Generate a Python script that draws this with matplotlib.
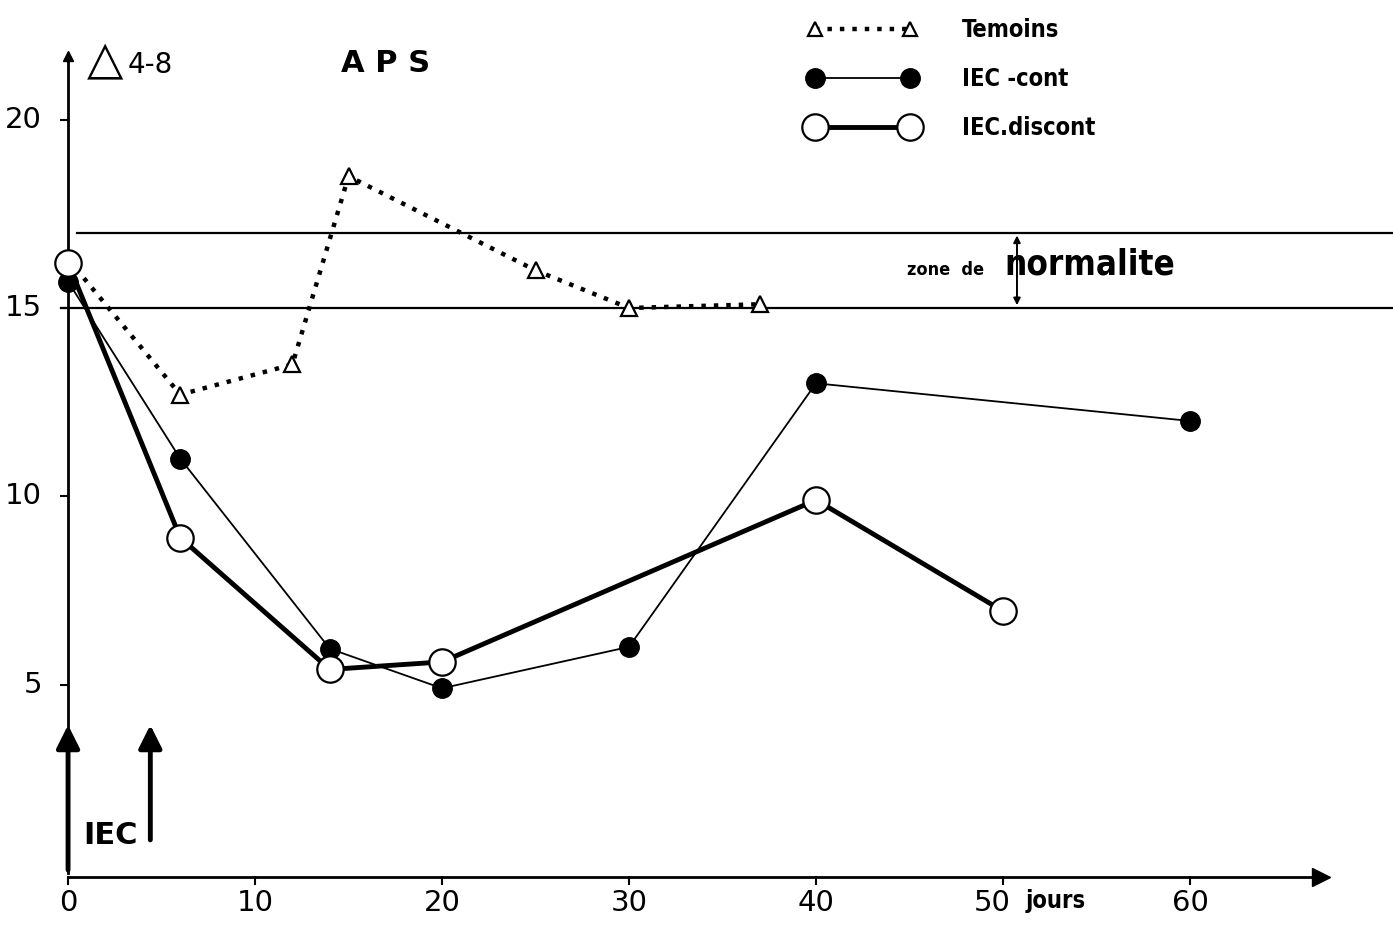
import matplotlib
matplotlib.use("Agg")
from matplotlib import pyplot as plt

# data (day, delta 4-8)
temoins_x = [0, 6, 12, 15, 25, 30, 37]
temoins_y = [16.3, 12.7, 13.5, 18.5, 16.0, 15.0, 15.1]

cont_x = [0, 6, 14, 20, 30, 40, 60]
cont_y = [15.7, 11.0, 5.95, 4.9, 6.0, 13.0, 12.0]

discont_x = [0, 6, 14, 20, 40, 50]
discont_y = [16.2, 8.9, 5.4, 5.6, 9.9, 6.95]

norm_low, norm_high = 15, 17
iec_days = [0, 4.4]
xticks = [0, 10, 20, 30, 40, 50, 60]
xticklabels = ["0", "10", "20", "30", "40", "50", "60"]
yticks = [5, 10, 15, 20]

fig = plt.figure(figsize=(13.93, 9.27), dpi=100)
ax = fig.add_axes([0, 0, 1, 1])
ax.set_xlim(-3.64, 70.86)
ax.set_ylim(-1.44, 23.18)
ax.axis("off")

k = "black"
# axes with arrows
ax.plot([0, 0], [0, 21.6], color=k, lw=2)
ax.plot(0, 21.7, marker="^", color=k, ms=7)
ax.plot([0, 66.5], [-0.1, -0.1], color=k, lw=2)
ax.plot(67, -0.1, marker=">", color=k, ms=13)

for t in yticks:
    ax.plot([-0.4, 0], [t, t], color=k, lw=1.5)
    ax.text(-1.4, t, str(t), ha="right", va="center", fontsize=21, color=k)
for t, lab in zip(xticks, xticklabels):
    ax.plot([t, t], [-0.1, -0.3], color=k, lw=1.5)
    xt = t - 0.6 if lab == "50" else t
    ax.text(xt, -0.8, lab, ha="center", va="center", fontsize=21, color=k)
ax.text(51.2, -0.75, "jours", ha="left", va="center", fontsize=17,
        fontweight="bold", fontstretch="condensed", color=k)

# zone de normalite
ax.axhline(norm_high, xmin=(0.5 + 3.64) / 74.5, color=k, lw=1.6)
ax.axhline(norm_low, xmin=(-0.4 + 3.64) / 74.5, color=k, lw=1.6)
ax.annotate("", xy=(50.75, norm_high), xytext=(50.75, norm_low),
            arrowprops=dict(arrowstyle="<|-|>", color=k, lw=1.4, mutation_scale=10))
ax.text(49.0, 16.0, "zone  de", ha="right", va="center", fontsize=13,
        fontweight="bold", fontstretch="condensed", color=k)
ax.text(50.1, 16.15, "normalite", ha="left", va="center", fontsize=25,
        fontweight="bold", fontstretch="condensed", color=k)

# series
l1, = ax.plot(temoins_x, temoins_y, color=k, ls=(0, (1, 1.8)), lw=3.2,
              marker="^", ms=12, mfc="white", mec=k, mew=1.6, zorder=3)
l2, = ax.plot(cont_x, cont_y, color=k, lw=1.3, marker="o", ms=14,
              mfc=k, mec=k, zorder=4)
l3, = ax.plot(discont_x, discont_y, color=k, lw=3.5, marker="o", ms=19,
              mfc="white", mec=k, mew=1.6, zorder=5)

leg = ax.legend([l1, l2, l3], ["Temoins", "IEC \u2010cont", "IEC.discont"],
                loc="upper left", bbox_to_anchor=(0.565, 1.003), frameon=False,
                handlelength=4.6, numpoints=2, labelspacing=1.05,
                handletextpad=1.9, prop=dict(size=17, weight="bold", stretch="condensed"))
leg.legend_handles[0].set_markersize(10)

# titles
ax.text(1.0, 21.55, "\u25b3", ha="left", va="center", fontsize=34, color=k)
ax.text(3.2, 21.45, "4-8", ha="left", va="center", fontsize=20, color=k)
ax.text(14.6, 21.5, "A P S", ha="left", va="center", fontsize=22,
        fontweight="bold", color=k)

# IEC arrows
for d in iec_days:
    y0 = 0 if d == 0 else 0.8
    ax.annotate("", xy=(d, 4.0), xytext=(d, y0),
                arrowprops=dict(arrowstyle="-|>", color=k, lw=3.5,
                                mutation_scale=35))
ax.text(0.8, 1.0, "IEC", ha="left", va="center", fontsize=22,
        fontweight="bold", color=k)

fig.savefig("out.png", dpi=100)
